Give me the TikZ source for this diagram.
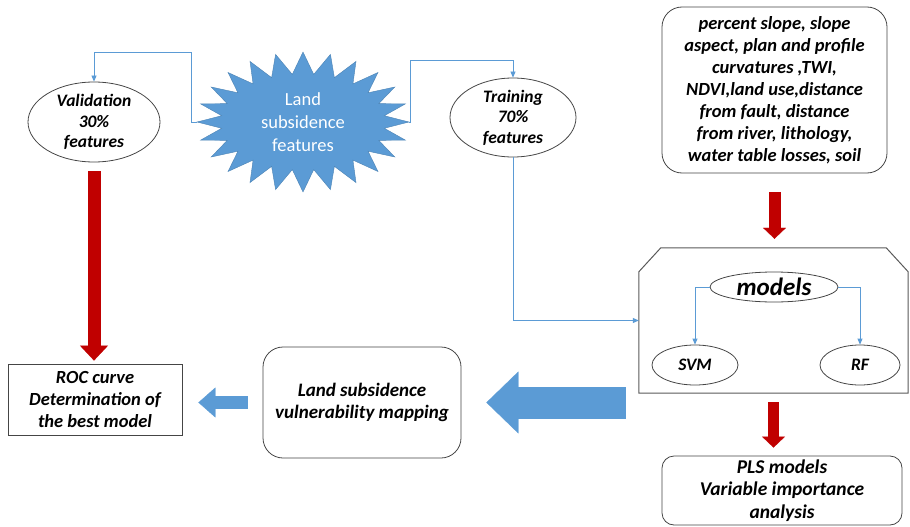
\documentclass[tikz,border=0pt]{standalone}
\usepackage{fontspec}
\setmainfont{Carlito}
\usetikzlibrary{arrows.meta,calc,shapes.geometric}
\definecolor{linkblue}{HTML}{5B9BD5}
\definecolor{burstblue}{HTML}{5B9BD5}
\definecolor{darkred}{HTML}{C00000}
\definecolor{edgegray}{HTML}{454545}
\definecolor{framegray}{HTML}{595959}

\tikzset{
  txt/.style={font=\fontsize{17.5}{20.5}\selectfont\bfseries\itshape, align=center, inner sep=0pt},
  big/.style={font=\fontsize{18.5}{22}\selectfont\bfseries\itshape},
  oval/.style={txt, ellipse, draw=edgegray, line width=0.8pt},
  box/.style={txt, big, rectangle, draw=edgegray, line width=0.8pt},
  burst/.style={ellipse, inner sep=0pt, align=center, text=white,
    font=\fontsize{18.5}{23}\selectfont},
  conn/.style={draw=linkblue, line width=0.8pt, -{Triangle[length=6pt,width=5pt]}},
  block/.style n args={4}{draw=#4, line width=#1,
    -{Triangle[length=#2,width=#3,line width=0.3pt]}}
}

\begin{document}
\begin{tikzpicture}[x=1pt,y=-1pt]
\useasboundingbox (0,0) rectangle (910,527);

% star outline
\filldraw[fill=burstblue, draw=burstblue!85!black, line width=0.4pt] (409,122)
  \foreach \a in {0,15,...,345} {
    -- ({303+106*cos(\a)},{122+70*sin(\a)})
    -- ({303+82*cos(\a+7.5)},{122+48*sin(\a+7.5)}) } -- cycle;
\node[burst, minimum width=212pt, minimum height=140pt] (burst) at (303,122) {Land\\subsidence\\features};

\node[oval, minimum width=132pt, minimum height=80pt] (valid) at (94,122) {Validation\\30\%\\features};
\node[oval, minimum width=126pt, minimum height=79pt] (train) at (513,117.5) {Training\\70\%\\features};

\node[box, rounded corners=20pt, minimum width=225pt, minimum height=166pt] (feat) at (774.5,90)
  {percent slope, slope\\aspect, plan and profile\\curvatures ,TWI,\\NDVI,land use,distance\\from fault, distance\\from river, lithology,\\water table losses, soil};

% models frame
\node[minimum width=269pt, minimum height=145pt, inner sep=0pt] (mbox) at (773.5,320.5) {};
\draw[framegray, line width=1pt] ($(mbox.north west)+(0,24)$) -- ($(mbox.north west)+(22,0)$)
  -- ($(mbox.north east)+(-22,0)$) -- ($(mbox.north east)+(0,24)$)
  -- (mbox.south east) -- (mbox.south west) -- cycle;
\node[oval, font=\fontsize{25}{28}\selectfont\bfseries\itshape, minimum width=128pt, minimum height=30pt] (models) at (774,287) {models};
\node[oval, minimum width=86pt, minimum height=40pt] (svm) at (695,365) {SVM};
\node[oval, minimum width=80pt, minimum height=40pt] (rf) at (860,365) {RF};

\node[box, font=\fontsize{19.5}{22.5}\selectfont\bfseries\itshape, rounded corners=12pt, minimum width=240pt, minimum height=69pt] (pls) at (782,490.5)
  {PLS models\\Variable importance\\analysis};
\node[box, font=\fontsize{19}{22}\selectfont\bfseries\itshape, rounded corners=20pt, minimum width=198pt, minimum height=111pt] (map) at (362,402.5)
  {Land subsidence\\vulnerability mapping};
\node[box, minimum width=174pt, minimum height=71pt] (roc) at (95,399.5)
  {ROC curve\\Determination of\\the best model};

% thin connectors
\draw[conn] (burst.west) -- ++(-5,0) -- ++(0,-70) -| (valid.north);
\draw[conn] (burst.east) -- ++(1,0) -- ++(0,-62) -| (train.north);
\draw[conn] (train.south) |- (mbox.west);
\draw[conn] (models.west) -| (svm.north);
\draw[conn] (models.east) -| (rf.north);

% block arrows
\draw[block={13pt}{15pt}{28pt}{darkred}, shorten <=9pt, shorten >=3pt] (valid.south) -- (valid.south |- roc.north);
\draw[block={12pt}{11pt}{23pt}{darkred}, shorten <=19pt, shorten >=9pt] (feat.south) -- (feat.south |- mbox.north);
\draw[block={11pt}{11pt}{23pt}{darkred}, shorten <=9pt, shorten >=8pt] (mbox.south) -- (mbox.south |- pls.north);
\draw[block={32pt}{32pt}{62pt}{linkblue}, shorten <=13pt, shorten >=25pt] (mbox.west |- map.east) -- (map.east);
\draw[block={13pt}{17pt}{30pt}{linkblue}, shorten <=15pt, shorten >=16pt] (map.west) -- (roc.east |- map.west);
\end{tikzpicture}
\end{document}
